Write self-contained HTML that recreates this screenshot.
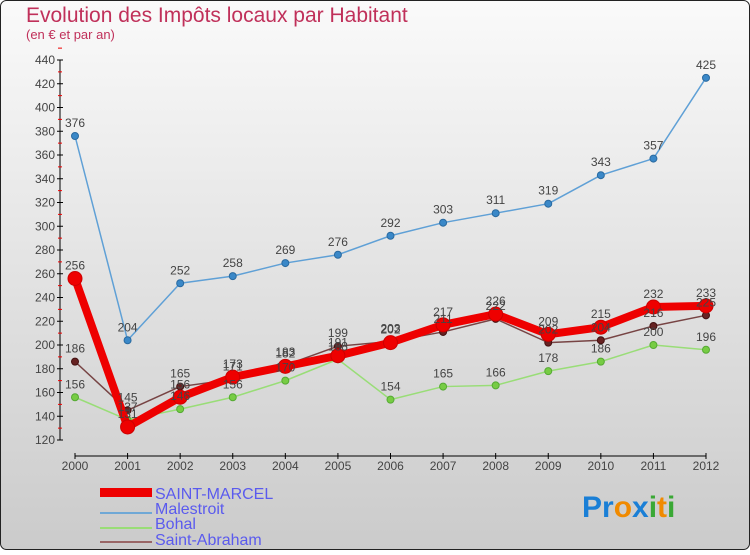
<!DOCTYPE html>
<html><head><meta charset="utf-8"><style>
html,body{margin:0;padding:0;}
body{width:750px;height:550px;overflow:hidden;font-family:"Liberation Sans",sans-serif;}
</style></head><body>
<svg width="750" height="550" xmlns="http://www.w3.org/2000/svg">
<defs><linearGradient id="bg" x1="0" y1="0" x2="0" y2="1"><stop offset="0" stop-color="#fafafa"/><stop offset="1" stop-color="#cbcbcb"/></linearGradient></defs>
<rect x="0.5" y="0.5" width="749" height="549" rx="6" fill="url(#bg)" stroke="#222"/>
<text x="26" y="22" font-size="21" fill="#c0305a">Evolution des Impôts locaux par Habitant</text>
<text x="26" y="39" font-size="13" fill="#c0305a">(en € et par an)</text>
<g id="axes"></g>
<g id="series"></g>
<g id="labels" font-size="12" fill="#444" text-anchor="middle"></g>
<g font-size="16" fill="#5a5aee">
<rect x="100" y="488" width="52" height="9" fill="#e00"/>
<text x="155" y="499">SAINT-MARCEL</text>
<line x1="100" y1="513" x2="152" y2="513" stroke="#6fa8d6" stroke-width="2"/>
<text x="155" y="514">Malestroit</text>
<line x1="100" y1="528" x2="152" y2="528" stroke="#99dd77" stroke-width="2"/>
<text x="155" y="529">Bohal</text>
<line x1="100" y1="542" x2="152" y2="542" stroke="#996666" stroke-width="2"/>
<text x="155" y="545">Saint-Abraham</text>
</g>
<g font-size="30" font-weight="bold" font-family="'Liberation Sans',sans-serif">
<text x="582" y="517"><tspan fill="#1a7fd6">Pr</tspan><tspan fill="#f08a00">o</tspan><tspan fill="#1a7fd6">x</tspan><tspan fill="#3aa835">i</tspan><tspan fill="#f08a00">t</tspan><tspan fill="#3aa835">i</tspan></text>
</g>
</svg>
<script>
const years=["2000","2001","2002","2003","2004","2005","2006","2007","2008","2009","2010","2011","2012"];
const yTicks=[120,140,160,180,200,220,240,260,280,300,320,340,360,380,400,420,440];
const saintMarcel=[256,131,156,173,182,191,202,217,226,209,215,232,233];
const malestroit=[376,204,252,258,269,276,292,303,311,319,343,357,425];
const bohal=[156,137,146,156,170,188,154,165,166,178,186,200,196];
const saintAbraham=[186,145,165,171,183,199,203,211,222,202,204,216,225];
const NS="http://www.w3.org/2000/svg";
function xs(i){return 75+i*(706-75)/(years.length-1);}
function ys(v){return 440-(v-120)*380/320;}
function mk(tag,attrs,parent){const e=document.createElementNS(NS,tag);for(const k in attrs)e.setAttribute(k,attrs[k]);parent.appendChild(e);return e;}
const axes=document.getElementById('axes');
const ya=mk('line',{x1:60,y1:ys(440),x2:60,y2:ys(120),stroke:'#000'},axes);


yTicks.forEach(v=>{
  mk('line',{x1:57,y1:ys(v),x2:63,y2:ys(v),stroke:'#000'},axes);
  mk('line',{x1:58,y1:ys(v+10),x2:62,y2:ys(v+10),stroke:'#e00'},axes);
  const t=mk('text',{x:55,y:ys(v)+4,'font-size':12,fill:'#444','text-anchor':'end'},axes);
  t.textContent=v;
  
  
});
const xa=mk('line',{x1:xs(0),y1:456,x2:xs(12),y2:456,stroke:'#000'},axes);


years.forEach((y,i)=>{
  mk('line',{x1:xs(i),y1:453,x2:xs(i),y2:459,stroke:'#000'},axes);
  const t=mk('text',{x:xs(i),y:470,'font-size':12,fill:'#444','text-anchor':'middle'},axes);
  t.textContent=y;
  
  
});
const ser=document.getElementById('series'),lab=document.getElementById('labels');
function draw(data,name,color,w,r,dotFill,dotStroke){
  const g=mk('g',{},ser);
  
  
  const p=mk('polyline',{points:data.map((v,i)=>xs(i)+','+ys(v)).join(' '),fill:'none',stroke:color,'stroke-width':w,'stroke-linejoin':'round'},g);
  
  
  data.forEach((v,i)=>{
    const c=mk('circle',{cx:xs(i),cy:ys(v),r:r,fill:dotFill,stroke:dotStroke,'stroke-width':1},g);
    
    
    const t=mk('text',{x:xs(i),y:ys(v)-9},lab);
    t.textContent=v;
    
    
  });
}
draw(malestroit,'malestroit','#5fa0d6',1.5,3.5,'#3a88c8','#2a6aa0');
draw(bohal,'bohal','#99dd77',1.5,3.5,'#77cc44','#55aa33');
draw(saintAbraham,'saint-abraham','#774444',1.5,3.5,'#662222','#441111');
draw(saintMarcel,'saint-marcel','#ee0000',8,7,'#ee0000','#cc0000');
</script>
</body></html>
